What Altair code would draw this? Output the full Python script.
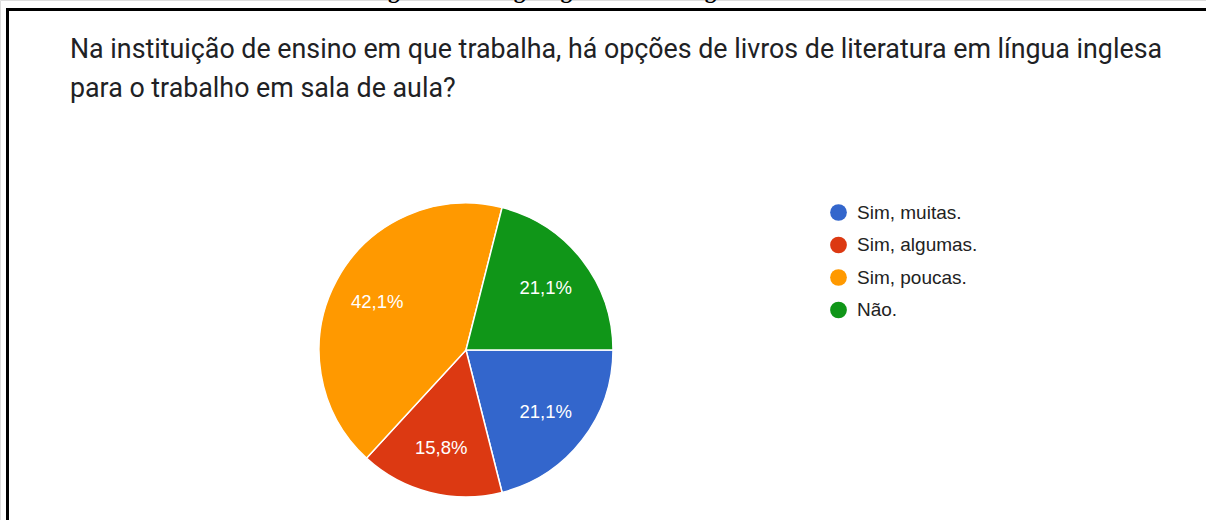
import altair as alt
import pandas as pd

# ---- data ----
categories = ["Sim, muitas.", "Sim, algumas.", "Sim, poucas.", "Não."]
counts = [4, 3, 8, 4]
labels = ["21,1%", "15,8%", "42,1%", "21,1%"]
colors = ["#3366CC", "#DC3912", "#FF9900", "#109618"]

title_lines = [
    "Na instituição de ensino em que trabalha, há opções de livros de literatura em língua inglesa",
    "para o trabalho em sala de aula?",
]
caption = "Figura 4 – Imagem gerada no Google Forms"

df = pd.DataFrame({
    "cat": categories,
    "n": counts,
    "label": labels,
    "order": list(range(len(categories))),
})

CX, CY, R = 466, 350, 147
theta_scale = alt.Scale(range=[1.5707963, 7.8539816])

pie = alt.Chart(df).mark_arc(outerRadius=R, stroke="white", strokeWidth=1.5).encode(
    theta=alt.Theta("n:Q", stack=True, scale=theta_scale),
    color=alt.Color(
        "cat:N",
        sort=categories,
        scale=alt.Scale(domain=categories, range=colors),
        legend=alt.Legend(
            title=None,
            orient="none",
            legendX=829,
            legendY=203,
            symbolType="circle",
            symbolSize=280,
            symbolStrokeWidth=0,
            labelFont="Liberation Sans",
            labelFontSize=19,
            labelColor="#222222",
            labelOffset=9,
            rowPadding=12.5,
        ),
    ),
    order=alt.Order("order:Q"),
    x=alt.value(CX),
    y=alt.value(CY),
)

pie_text = alt.Chart(df).mark_text(
    radius=101,
    font="Liberation Sans",
    fontSize=18.5,
    color="white",
    align="center",
    baseline="middle",
).encode(
    theta=alt.Theta("n:Q", stack=True, scale=theta_scale),
    text="label:N",
    order=alt.Order("order:Q"),
    x=alt.value(CX),
    y=alt.value(CY),
)

one = pd.DataFrame({"t": ["\n".join(title_lines)], "c": [caption]})

title = alt.Chart(one).mark_text(
    align="left",
    baseline="alphabetic",
    font="Roboto",
    fontSize=26.8,
    color="#202124",
    lineBreak="\n",
    lineHeight=39,
).encode(text="t:N", x=alt.value(70), y=alt.value(58))

cap = alt.Chart(one).mark_text(
    align="center",
    baseline="alphabetic",
    font="Liberation Serif",
    fontSize=23,
    fontWeight="bold",
    color="black",
).encode(text="c:N", x=alt.value(585), y=alt.value(-2))

frame_top = alt.Chart(one).mark_rule(color="black", strokeWidth=3).encode(
    x=alt.value(6), x2=alt.value(1206), y=alt.value(9.5)
)
frame_left = alt.Chart(one).mark_rule(color="black", strokeWidth=3).encode(
    x=alt.value(7.5), y=alt.value(8), y2=alt.value(520)
)

chart = alt.layer(pie, pie_text, title, cap, frame_top, frame_left).properties(
    width=1206, height=520, padding=0, autosize=alt.AutoSizeParams(type="none")
).configure_view(stroke=None).configure(background="white")

chart.save("out.html", embed_options={"renderer": "svg", "actions": False})
